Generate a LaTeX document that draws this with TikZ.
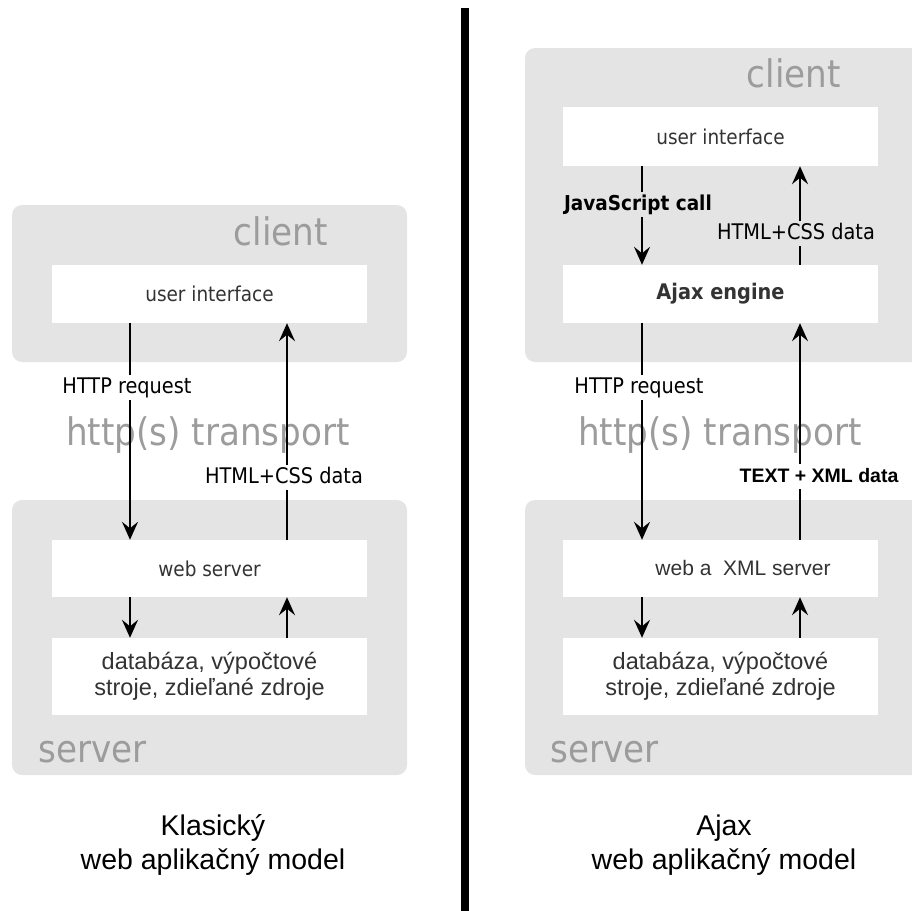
\documentclass[tikz,border=0pt]{standalone}
\usepackage{fontspec}
\setmainfont{Liberation Sans}
\newfontfamily\tahoma{DejaVu Sans Condensed}
\usetikzlibrary{arrows.meta}

\definecolor{boxgray}{HTML}{E4E4E4}
\definecolor{titlegray}{HTML}{9C9C9C}
\definecolor{textdark}{HTML}{333333}

\begin{document}
\begin{tikzpicture}[x=1pt,y=-1pt,
  area/.style={fill=boxgray, rounded corners=10pt},
  inbox/.style={fill=white, minimum width=315pt, inner sep=0pt, text=textdark, font=\tahoma\fontsize{20.5}{24}\selectfont},
  dbbox/.style={inbox, minimum height=77pt, align=center, font=\fontsize{23.5}{26}\selectfont},
  big/.style={text=titlegray, inner sep=0pt, font=\tahoma\fontsize{38}{40}\selectfont},
  lbl/.style={inner sep=2pt, text height=16pt, text depth=5pt, font=\tahoma\fontsize{21.5}{24}\selectfont},
  flow/.style={line width=2pt, -{Stealth[length=18pt,width=16pt,inset=6.5pt]}},
  caption/.style={align=center, font=\fontsize{28.5}{34}\selectfont}]
\useasboundingbox (0,0) rectangle (911,911);

% grey areas
\fill[area] (12,205) rectangle (407,362);
\fill[area] (12,500) rectangle (407,775);
\fill[area] (525,48) rectangle (930,362);
\fill[area] (525,500) rectangle (930,775);

% divider
\draw[line width=8pt] (465,8) -- (465,915);

% area titles
\node[big, anchor=base east] (cliL) at (328,245) {client};
\node[big, anchor=base west] (srvL) at (38,762) {server};
\node[big, anchor=base] (trL) at (208,445) {http(s) transport};
\node[big, anchor=base east] (cliR) at (841,87) {client};
\node[big, anchor=base west] (srvR) at (550,762) {server};
\node[big, anchor=base] (trR) at (720,445) {http(s) transport};

% classic model
\node[inbox, minimum height=58pt] (uiL) at (209.5,294) {user interface};
\node[inbox, minimum height=57pt] (wsL) at (209.5,568.5) {web server};
\node[dbbox] (dbL) at (209.5,676.5) {databáza, výpočtové\\stroje, zdieľané zdroje};
\coordinate (xa) at (130,0);
\coordinate (xb) at (287,0);
\draw[flow] (uiL.south -| xa) -- (wsL.north -| xa);
\draw[flow] (wsL.north -| xb) -- (uiL.south -| xb);
\draw[flow] (wsL.south -| xa) -- (dbL.north -| xa);
\draw[flow] (dbL.north -| xb) -- (wsL.south -| xb);
\node[lbl, fill=white, anchor=base] (reqL) at (127,393) {HTTP request};
\node[lbl, fill=white, anchor=base] (resL) at (284,483) {HTML+CSS data};

% ajax model
\node[inbox, minimum height=59pt] (uiR) at (720.5,136.5) {user interface};
\node[inbox, minimum height=58pt, font=\tahoma\bfseries\fontsize{21.5}{24}\selectfont] (engR) at (720.5,294) {Ajax engine};
\node[inbox, minimum height=57pt] (wsR) at (720.5,568.5) {};
\node[text=textdark, font=\fontsize{21}{24}\selectfont] (wsRtxt) at (743,568) {web a\ \ XML server};
\node[dbbox] (dbR) at (720.5,676.5) {databáza, výpočtové\\stroje, zdieľané zdroje};
\coordinate (xc) at (642,0);
\coordinate (xd) at (800,0);
\draw[flow] (uiR.south -| xc) -- (engR.north -| xc);
\draw[flow] (engR.north -| xd) -- (uiR.south -| xd);
\draw[flow] (engR.south -| xc) -- (wsR.north -| xc);
\draw[flow] (wsR.north -| xd) -- (engR.south -| xd);
\draw[flow] (wsR.south -| xc) -- (dbR.north -| xc);
\draw[flow] (dbR.north -| xd) -- (wsR.south -| xd);
\node[lbl, fill=boxgray, anchor=base, font=\tahoma\bfseries\fontsize{20.5}{24}\selectfont] (jsR) at (638,210) {JavaScript call};
\node[lbl, fill=boxgray, anchor=base] (resR) at (796,239) {HTML+CSS data};
\node[lbl, fill=white, anchor=base] (reqR) at (639,393) {HTTP request};
\node[lbl, fill=white, anchor=base, font=\bfseries\fontsize{19.5}{24}\selectfont] (xmlR) at (819,482) {TEXT + XML data};

% captions
\node[caption] (capL) at (213,845) {Klasický\\web aplikačný model};
\node[caption] (capR) at (724,845) {Ajax\\web aplikačný model};
\end{tikzpicture}
\end{document}
